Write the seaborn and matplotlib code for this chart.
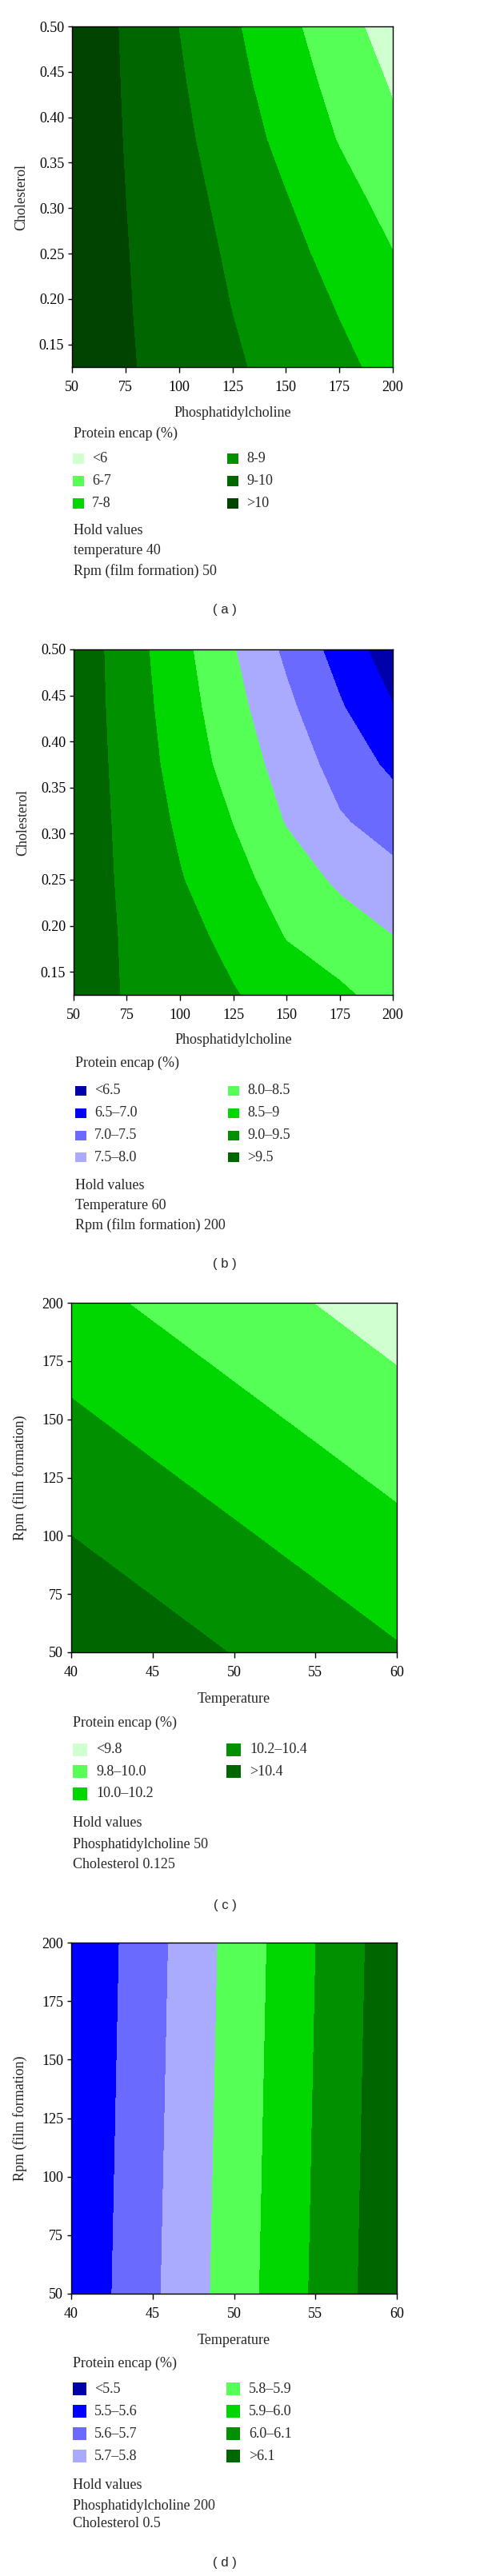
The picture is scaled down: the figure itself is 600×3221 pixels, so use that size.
import matplotlib
matplotlib.use("Agg")
import matplotlib.pyplot as plt
from matplotlib.patches import Rectangle
from matplotlib.transforms import blended_transform_factory
import seaborn as sns

# ---- data ----
# (a) phosphatidylcholine x cholesterol, temperature 40, rpm 50
pc_vals = [50, 75, 100, 125, 150, 175, 200]
chol_vals = [0.125, 0.1875, 0.25, 0.3125, 0.375, 0.4375, 0.5]
encap_a = [
    [10.58, 10.10, 9.62, 9.13, 8.66, 8.19, 7.73],
    [10.61, 10.07, 9.53, 8.99, 8.47, 7.96, 7.46],
    [10.62, 10.04, 9.45, 8.86, 8.28, 7.67, 7.02],
    [10.65, 10.00, 9.35, 8.70, 8.03, 7.33, 6.65],
    [10.68, 9.96, 9.23, 8.49, 7.73, 6.95, 6.22],
    [10.73, 9.92, 9.11, 8.31, 7.48, 6.68, 5.91],
    [10.77, 9.88, 8.99, 8.14, 7.25, 6.39, 5.55],
]
levels_a = [0, 6, 7, 8, 9, 10, 20]
labels_a = ["<6", "6-7", "7-8", "8-9", "9-10", ">10"]
hold_a = ["Hold values", "temperature 40", "Rpm (film formation) 50"]

# (b) phosphatidylcholine x cholesterol, temperature 60, rpm 200
encap_b = [
    [9.70, 9.47, 9.25, 9.03, 8.80, 8.57, 8.34],
    [9.74, 9.45, 9.16, 8.87, 8.48, 8.29, 8.01],
    [9.78, 9.41, 9.03, 8.65, 8.29, 7.90, 7.64],
    [9.81, 9.37, 8.92, 8.49, 7.97, 7.55, 7.30],
    [9.83, 9.32, 8.81, 8.30, 7.79, 7.32, 6.89],
    [9.83, 9.28, 8.73, 8.16, 7.61, 7.05, 6.52],
    [9.83, 9.25, 8.65, 8.03, 7.40, 6.81, 6.22],
]
levels_b = [0, 6.5, 7.0, 7.5, 8.0, 8.5, 9.0, 9.5, 20]
labels_b = ["<6.5", "6.5\u20137.0", "7.0\u20137.5", "7.5\u20138.0",
            "8.0\u20138.5", "8.5\u20139", "9.0\u20139.5", ">9.5"]
hold_b = ["Hold values", "Temperature 60", "Rpm (film formation) 200"]

# (c) temperature x rpm, phosphatidylcholine 50, cholesterol 0.125
temp_vals = [40, 45, 50, 55, 60]
rpm_vals = [50, 100, 150, 200]
encap_c = [
    [10.570, 10.481, 10.393, 10.305, 10.217],
    [10.400, 10.312, 10.224, 10.136, 10.047],
    [10.231, 10.142, 10.054, 9.966, 9.878],
    [10.061, 9.973, 9.885, 9.797, 9.708],
]
levels_c = [0, 9.8, 10.0, 10.2, 10.4, 20]
labels_c = ["<9.8", "9.8\u201310.0", "10.0\u201310.2", "10.2\u201310.4", ">10.4"]
hold_c = ["Hold values", "Phosphatidylcholine 50", "Cholesterol 0.125"]

# (d) temperature x rpm, phosphatidylcholine 200, cholesterol 0.5
encap_d = [
    [5.517, 5.683, 5.848, 6.014, 6.179],
    [5.512, 5.678, 5.843, 6.009, 6.174],
    [5.507, 5.673, 5.838, 6.004, 6.169],
    [5.502, 5.668, 5.833, 5.999, 6.164],
]
levels_d = [0, 5.5, 5.6, 5.7, 5.8, 5.9, 6.0, 6.1, 20]
labels_d = ["<5.5", "5.5\u20135.6", "5.6\u20135.7", "5.7\u20135.8",
            "5.8\u20135.9", "5.9\u20136.0", "6.0\u20136.1", ">6.1"]
hold_d = ["Hold values", "Phosphatidylcholine 200", "Cholesterol 0.5"]

# colours, low -> high response
greens6 = ["#d0ffd0", "#55ff55", "#00d600", "#009000", "#006600", "#004400"]
blue_green8 = ["#0000aa", "#0000ff", "#6a6aff", "#aaaaff",
               "#55ff55", "#00d600", "#009000", "#006600"]
greens5 = ["#d0ffd0", "#55ff55", "#00d600", "#009000", "#006600"]

sns.set_theme(style="ticks")
plt.rcParams["font.family"] = ["Liberation Serif", "DejaVu Serif"]
plt.rcParams["axes.linewidth"] = 1.0
plt.rcParams["axes.edgecolor"] = "black"

W, H = 600, 3221
fig = plt.figure(figsize=(W / 100, H / 100), dpi=100)
fs = 13


def fx(x):
    return x / W


def fy(y):
    return 1 - y / H


def panel(xv, yv, z, levels, colors, labels, hold, xlab, ylab, xticks, yticks,
          box, lay, tag):
    l, t, r, b = box
    ax = fig.add_axes([fx(l), fy(b), (r - l) / W, (b - t) / H])
    ax.contourf(xv, yv, z, levels=levels, colors=sns.color_palette(colors))
    ax.set_xlim(xv[0], xv[-1])
    ax.set_ylim(yv[0], yv[-1])
    ax.set_xticks(xticks)
    ax.set_yticks(yticks)
    if isinstance(yticks[0], float):
        ax.set_yticklabels(["%.2f" % v for v in yticks])
    ax.tick_params(axis="x", direction="out", length=5, width=1, pad=7,
                   labelsize=fs, colors="black")
    ax.tick_params(axis="y", direction="out", length=3.6, width=1, pad=3.5,
                   labelsize=fs, colors="black")
    for s in ax.spines.values():
        s.set_color("black")
        s.set_linewidth(1.0)
    ax.set_xlabel(xlab, fontsize=fs)
    ax.set_ylabel(ylab, fontsize=fs)
    ax.xaxis.set_label_coords(
        0.5, fy(lay["xlab"] - 9),
        transform=blended_transform_factory(ax.transAxes, fig.transFigure))
    ax.yaxis.set_label_coords(
        fx(l - 55), 0.5,
        transform=blended_transform_factory(fig.transFigure, ax.transAxes))

    # legend block
    fig.text(fx(lay["tx"]), fy(lay["title"]), "Protein encap (%)",
             fontsize=fs, va="center", ha="left")
    nleft = (len(labels) + 1) // 2
    mw, mh = lay["msize"]
    for i, (lab, col) in enumerate(zip(labels, colors)):
        cx = lay["col1"] if i < nleft else lay["col2"]
        row = i if i < nleft else i - nleft
        yc = lay["row0"] + row * lay["step"]
        fig.add_artist(Rectangle((fx(cx), fy(yc + mh / 2)), mw / W, mh / H,
                                 transform=fig.transFigure, color=col, lw=0))
        fig.text(fx(cx + lay["toff"]), fy(yc), lab, fontsize=fs,
                 va="center", ha="left")
    for line, yy in zip(hold, lay["hold"]):
        fig.text(fx(lay["tx"]), fy(yy), line, fontsize=fs, va="center", ha="left")
    fig.text(fx(281), fy(lay["cap"]), "( %s )" % tag, fontsize=12,
             family=["Liberation Sans", "DejaVu Sans"], va="center", ha="center")
    return ax


pc_ticks = [50, 75, 100, 125, 150, 175, 200]
chol_ticks = [0.15, 0.20, 0.25, 0.30, 0.35, 0.40, 0.45, 0.50]
temp_ticks = [40, 45, 50, 55, 60]
rpm_ticks = [50, 75, 100, 125, 150, 175, 200]

panel(pc_vals, chol_vals, encap_a, levels_a, greens6, labels_a, hold_a,
      "Phosphatidylcholine", "Cholesterol", pc_ticks, chol_ticks,
      (90, 33, 491, 459),
      dict(xlab=517, title=542, tx=91.5, row0=573.5, step=27.8,
           col1=91, col2=284, msize=(13.5, 13), toff=24,
           hold=[664, 688.5, 714], cap=763), "a")

panel(pc_vals, chol_vals, encap_b, levels_b, blue_green8, labels_b, hold_b,
      "Phosphatidylcholine", "Cholesterol", pc_ticks, chol_ticks,
      (92, 812, 491, 1244),
      dict(xlab=1301, title=1329, tx=94.5, row0=1364, step=27.8,
           col1=94, col2=285, msize=(14, 12), toff=24.3,
           hold=[1482.5, 1507.5, 1532], cap=1580), "b")

panel(temp_vals, rpm_vals, encap_c, levels_c, greens5, labels_c, hold_c,
      "Temperature", "Rpm (film formation)", temp_ticks, rpm_ticks,
      (89, 1629, 496, 2066),
      dict(xlab=2125, title=2154, tx=91, row0=2188, step=27.3,
           col1=90.7, col2=282.7, msize=(18.7, 16), toff=29.3,
           hold=[2279.5, 2306.5, 2331], cap=2382), "c")

panel(temp_vals, rpm_vals, encap_d, levels_d, blue_green8, labels_d, hold_d,
      "Temperature", "Rpm (film formation)", temp_ticks, rpm_ticks,
      (89, 2429, 496, 2868),
      dict(xlab=2927, title=2955, tx=91, row0=2987, step=28.1,
           col1=90.7, col2=283.3, msize=(17, 16), toff=27.6,
           hold=[3107.5, 3133, 3156], cap=3205), "d")

fig.savefig("out.png", dpi=100, facecolor="white")
